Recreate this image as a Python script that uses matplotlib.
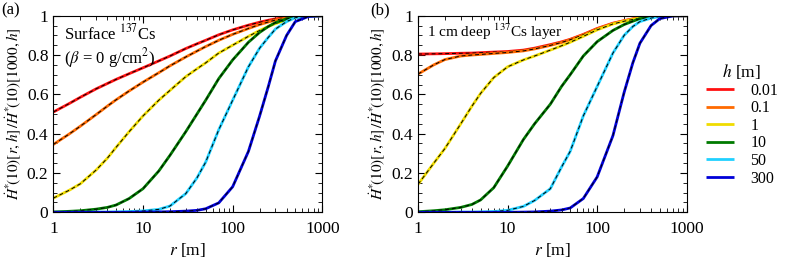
import matplotlib
matplotlib.use('Agg')
import matplotlib.pyplot as plt
from matplotlib.ticker import FixedLocator, LogLocator, MultipleLocator, NullFormatter, FuncFormatter
import numpy as np

plt.rcParams['font.family'] = ['Liberation Serif', 'DejaVu Serif']
plt.rcParams['mathtext.fontset'] = 'stix'

r = [1, 1.5, 2, 3, 4, 5, 7, 10, 15, 20, 30, 40, 50, 70, 100, 150, 200,
     250, 300, 400, 500, 700, 1000]

heights = ['0.01', '0.1', '1', '10', '50', '300']
colors = ['#ff1010', '#ff6a00', '#f0dc00', '#007a00', '#20d0ff', '#0000d8']

# panel (a): surface source
surf_001 = [0.51, 0.553, 0.585, 0.628, 0.655, 0.676, 0.705, 0.735, 0.77, 0.795, 0.833, 0.857,
            0.875, 0.903, 0.928, 0.952, 0.967, 0.977, 0.984, 0.992, 0.996, 0.999, 1.0]
surf_01 = [0.345, 0.398, 0.438, 0.497, 0.54, 0.572, 0.617, 0.662, 0.71, 0.745, 0.79, 0.82,
           0.843, 0.875, 0.905, 0.935, 0.955, 0.968, 0.978, 0.988, 0.994, 0.999, 1.0]
surf_1 = [0.072, 0.112, 0.145, 0.215, 0.275, 0.33, 0.41, 0.49, 0.57, 0.62, 0.69, 0.73,
          0.76, 0.81, 0.85, 0.895, 0.925, 0.945, 0.96, 0.978, 0.99, 0.998, 1.0]
surf_10 = [0.002, 0.005, 0.008, 0.016, 0.025, 0.037, 0.07, 0.12, 0.21, 0.29, 0.41, 0.50,
           0.57, 0.68, 0.775, 0.865, 0.915, 0.945, 0.965, 0.984, 0.993, 0.999, 1.0]
surf_50 = [0.0, 0.0, 0.0, 0.001, 0.001, 0.002, 0.004, 0.007, 0.015, 0.032, 0.095, 0.175,
           0.255, 0.42, 0.57, 0.74, 0.835, 0.89, 0.932, 0.97, 0.99, 0.998, 1.0]
surf_300 = [0.0, 0.0, 0.0, 0.0, 0.0, 0.0, 0.0, 0.001, 0.002, 0.003, 0.006, 0.01,
            0.018, 0.048, 0.13, 0.31, 0.49, 0.64, 0.77, 0.90, 0.97, 0.996, 1.0]

# panel (b): 1 cm deep layer
deep_001 = [0.805, 0.806, 0.807, 0.809, 0.81, 0.812, 0.815, 0.818, 0.825, 0.835, 0.853, 0.867,
            0.88, 0.905, 0.935, 0.962, 0.975, 0.984, 0.99, 0.995, 0.998, 1.0, 1.0]
deep_01 = [0.703, 0.75, 0.777, 0.795, 0.80, 0.803, 0.808, 0.813, 0.821, 0.831, 0.849, 0.864,
           0.878, 0.903, 0.933, 0.96, 0.974, 0.983, 0.989, 0.995, 0.998, 1.0, 1.0]
deep_1 = [0.142, 0.25, 0.325, 0.45, 0.54, 0.605, 0.685, 0.74, 0.775, 0.795, 0.825, 0.847,
          0.865, 0.895, 0.928, 0.958, 0.972, 0.981, 0.988, 0.994, 0.998, 1.0, 1.0]
deep_10 = [0.003, 0.008, 0.013, 0.025, 0.04, 0.063, 0.125, 0.235, 0.37, 0.45, 0.55, 0.64,
           0.70, 0.795, 0.868, 0.925, 0.955, 0.972, 0.985, 0.993, 0.998, 1.0, 1.0]
deep_50 = [0.0, 0.0, 0.0, 0.001, 0.001, 0.002, 0.004, 0.01, 0.03, 0.06, 0.12, 0.23,
           0.31, 0.49, 0.64, 0.81, 0.90, 0.945, 0.97, 0.988, 0.996, 1.0, 1.0]
deep_300 = [0.0, 0.0, 0.0, 0.0, 0.0, 0.0, 0.0, 0.0, 0.001, 0.002, 0.006, 0.012,
            0.022, 0.07, 0.18, 0.39, 0.61, 0.76, 0.86, 0.95, 0.985, 0.999, 1.0]

surface = [surf_001, surf_01, surf_1, surf_10, surf_50, surf_300]
deep = [deep_001, deep_01, deep_1, deep_10, deep_50, deep_300]

ylabel = r'$\dot{H}^{*}\!(10)[r,h]\,/\dot{H}^{*}\!(10)[1000,h]$'

fig = plt.figure(figsize=(7.89, 2.68), dpi=100)
ax_a = fig.add_axes([0.0676, 0.2078, 0.3409, 0.7336])
ax_b = fig.add_axes([0.5298, 0.2078, 0.3406, 0.7336])


def draw(ax, series):
    lines = []
    for vals, c, h in zip(series, colors, heights):
        ln, = ax.plot(r, vals, color=c, lw=2.0, label=h, solid_capstyle='butt')
        ax.plot(r, vals, color='black', lw=0.7, ls=(0, (4, 3)))
        lines.append(ln)
    ax.set_xscale('log')
    ax.set_xlim(1, 1000)
    ax.set_ylim(0, 1)
    ax.xaxis.set_major_locator(FixedLocator([1, 10, 100, 1000]))
    ax.xaxis.set_major_formatter(FuncFormatter(lambda v, p: '%g' % v))
    ax.xaxis.set_minor_locator(LogLocator(base=10, subs=np.arange(2, 10)))
    ax.xaxis.set_minor_formatter(NullFormatter())
    ax.yaxis.set_major_locator(MultipleLocator(0.2))
    ax.yaxis.set_minor_locator(MultipleLocator(0.05))
    ax.yaxis.set_major_formatter(FuncFormatter(lambda v, p: '%g' % round(v, 2)))
    ax.tick_params(which='both', direction='in', top=True, right=True, labelsize=12.5)
    ax.tick_params(which='major', length=5, width=0.8)
    ax.tick_params(which='minor', length=3, width=0.6)
    ax.tick_params(axis='x', pad=6)
    ax.set_xlabel(r'$r$ [m]', fontsize=12.5, labelpad=3)
    ax.set_ylabel(ylabel, fontsize=11, labelpad=3)
    return lines


lines = draw(ax_a, surface)
draw(ax_b, deep)

ax_a.text(0.04, 0.96, 'Surface $^{137}$Cs\n($\\beta$ = 0 g/cm$^2$)', transform=ax_a.transAxes,
          fontsize=12, va='top', ha='left', linespacing=1.15)
ax_b.text(0.035, 0.97, '1 cm deep $^{137}$Cs layer', transform=ax_b.transAxes,
          fontsize=11, va='top', ha='left')

fig.text(0.002, 0.99, '(a)', fontsize=12, va='top')
fig.text(0.469, 0.99, '(b)', fontsize=12, va='top')

leg = fig.legend(lines, heights, loc='upper left', bbox_to_anchor=(0.876, 0.822),
                 frameon=False, fontsize=11.5, title=r'$h$ [m]', title_fontsize=12.5,
                 handlelength=1.8, labelspacing=0.1, handletextpad=1.0)

fig.savefig('out.png', dpi=100)
